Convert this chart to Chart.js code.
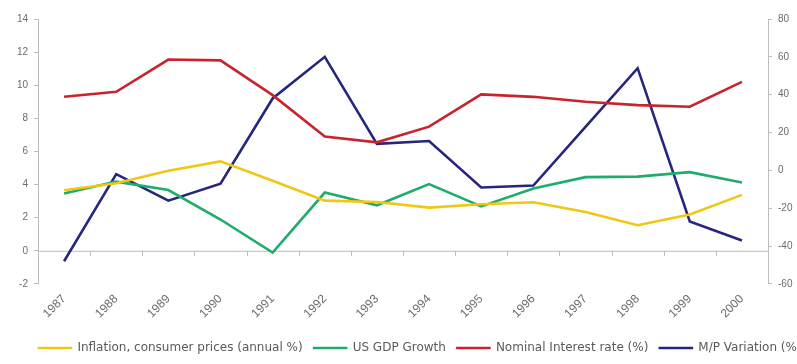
<!DOCTYPE html>
<html>
<head>
<meta charset="utf-8">
<script src="https://cdn.jsdelivr.net/npm/chart.js@4/dist/chart.umd.min.js"></script>
<style>
  html, body { margin: 0; padding: 0; background: #fff; overflow: hidden; }
  #wrap { width: 840px; height: 364px; }
</style>
</head>
<body>
<div id="wrap"><canvas id="econChart"></canvas></div>
<script>
// 年份與各序列數據
const years = ['1987', '1988', '1989', '1990', '1991', '1992', '1993', '1994', '1995', '1996', '1997', '1998', '1999', '2000'];
const inflation = [3.66, 4.08, 4.83, 5.40, 4.23, 3.03, 2.95, 2.61, 2.81, 2.93, 2.34, 1.55, 2.19, 3.38];
const gdpGrowth = [3.46, 4.18, 3.67, 1.89, -0.11, 3.52, 2.75, 4.03, 2.68, 3.77, 4.45, 4.48, 4.75, 4.13];
const interestRate = [9.3, 9.6, 11.55, 11.5, 9.4, 6.9, 6.55, 7.5, 9.45, 9.3, 9.0, 8.8, 8.7, 10.2];
const mpVariation = [-48, -2, -16, -7, 38, 60, 14, 15.5, -9, -8, 23, 54, -27, -37];

const leftTicks = [-2, 0, 2, 4, 6, 8, 10, 12, 14];
const rightTicks = [-60, -40, -20, 0, 20, 40, 60, 80];

const tickColor = '#6b6b6b';
const axisColor = '#bdbdbd';

// 零線及其刻度（類別軸畫在 0 的位置，標籤則在底部）
const zeroLine = {
  id: 'zeroLine',
  beforeDatasetsDraw(chart) {
    const { ctx, chartArea, scales } = chart;
    const y0 = scales.y.getPixelForValue(0);
    ctx.save();
    ctx.strokeStyle = axisColor;
    ctx.lineWidth = 1;
    ctx.beginPath();
    ctx.moveTo(chartArea.left, y0 + 0.5);
    ctx.lineTo(chartArea.right, y0 + 0.5);
    const x = scales.x;
    for (let i = 1; i < years.length; i++) {
      const px = Math.round((x.getPixelForValue(i - 1) + x.getPixelForValue(i)) / 2) + 0.5;
      ctx.moveTo(px, y0);
      ctx.lineTo(px, y0 + 5);
    }
    ctx.stroke();
    ctx.restore();
  }
};

function lineSet(label, data, color, axis) {
  return {
    label: label,
    data: data,
    borderColor: color,
    backgroundColor: color,
    borderWidth: 2.6,
    pointRadius: 0,
    tension: 0,
    yAxisID: axis
  };
}

new Chart(document.getElementById('econChart'), {
  type: 'line',
  data: {
    labels: years,
    datasets: [
      lineSet('Inflation, consumer prices (annual %)', inflation, '#f0c814', 'y'),
      lineSet('US GDP Growth', gdpGrowth, '#1fac6c', 'y'),
      lineSet('Nominal Interest rate (%)', interestRate, '#c8242c', 'y'),
      lineSet('M/P Variation (%)', mpVariation, '#26267f', 'y1')
    ]
  },
  options: {
    responsive: true,
    maintainAspectRatio: false,
    animation: false,
    layout: { padding: { top: 19, left: 0, right: 0, bottom: 0 } },
    plugins: {
      legend: {
        position: 'bottom',
        labels: {
          boxWidth: 33,
          boxHeight: 1,
          padding: 11,
          color: '#5a5a5a',
          font: { family: 'DejaVu Sans', size: 12 },
          generateLabels(chart) {
            // 圖例線條細一點
            return Chart.defaults.plugins.legend.labels.generateLabels(chart)
              .map(item => Object.assign(item, { lineWidth: 1.6 }));
          }
        }
      },
      tooltip: { enabled: false }
    },
    scales: {
      x: {
        offset: true,
        afterFit(scale) { scale.height += 10; },
        grid: { display: false },
        border: { display: false },
        ticks: {
          color: tickColor,
          font: { family: 'Liberation Sans', size: 12 },
          minRotation: 45,
          maxRotation: 45,
          padding: 0
        }
      },
      y: {
        position: 'left',
        min: -2,
        max: 14,
        afterFit(scale) { scale.width = 38; },
        afterBuildTicks(scale) { scale.ticks = leftTicks.map(v => ({ value: v })); },
        grid: { drawOnChartArea: false, tickLength: 4, color: axisColor },
        border: { color: axisColor },
        ticks: {
          color: tickColor,
          font: { family: 'Liberation Sans', size: 10 },
          padding: 6
        }
      },
      y1: {
        position: 'right',
        min: -60,
        max: 80,
        afterFit(scale) { scale.width = 72; },
        afterBuildTicks(scale) { scale.ticks = rightTicks.map(v => ({ value: v })); },
        grid: { drawOnChartArea: false, tickLength: 4, color: axisColor },
        border: { color: axisColor },
        ticks: {
          color: tickColor,
          font: { family: 'Liberation Sans', size: 10 },
          padding: 6
        }
      }
    }
  },
  plugins: [zeroLine]
});
</script>
</body>
</html>
